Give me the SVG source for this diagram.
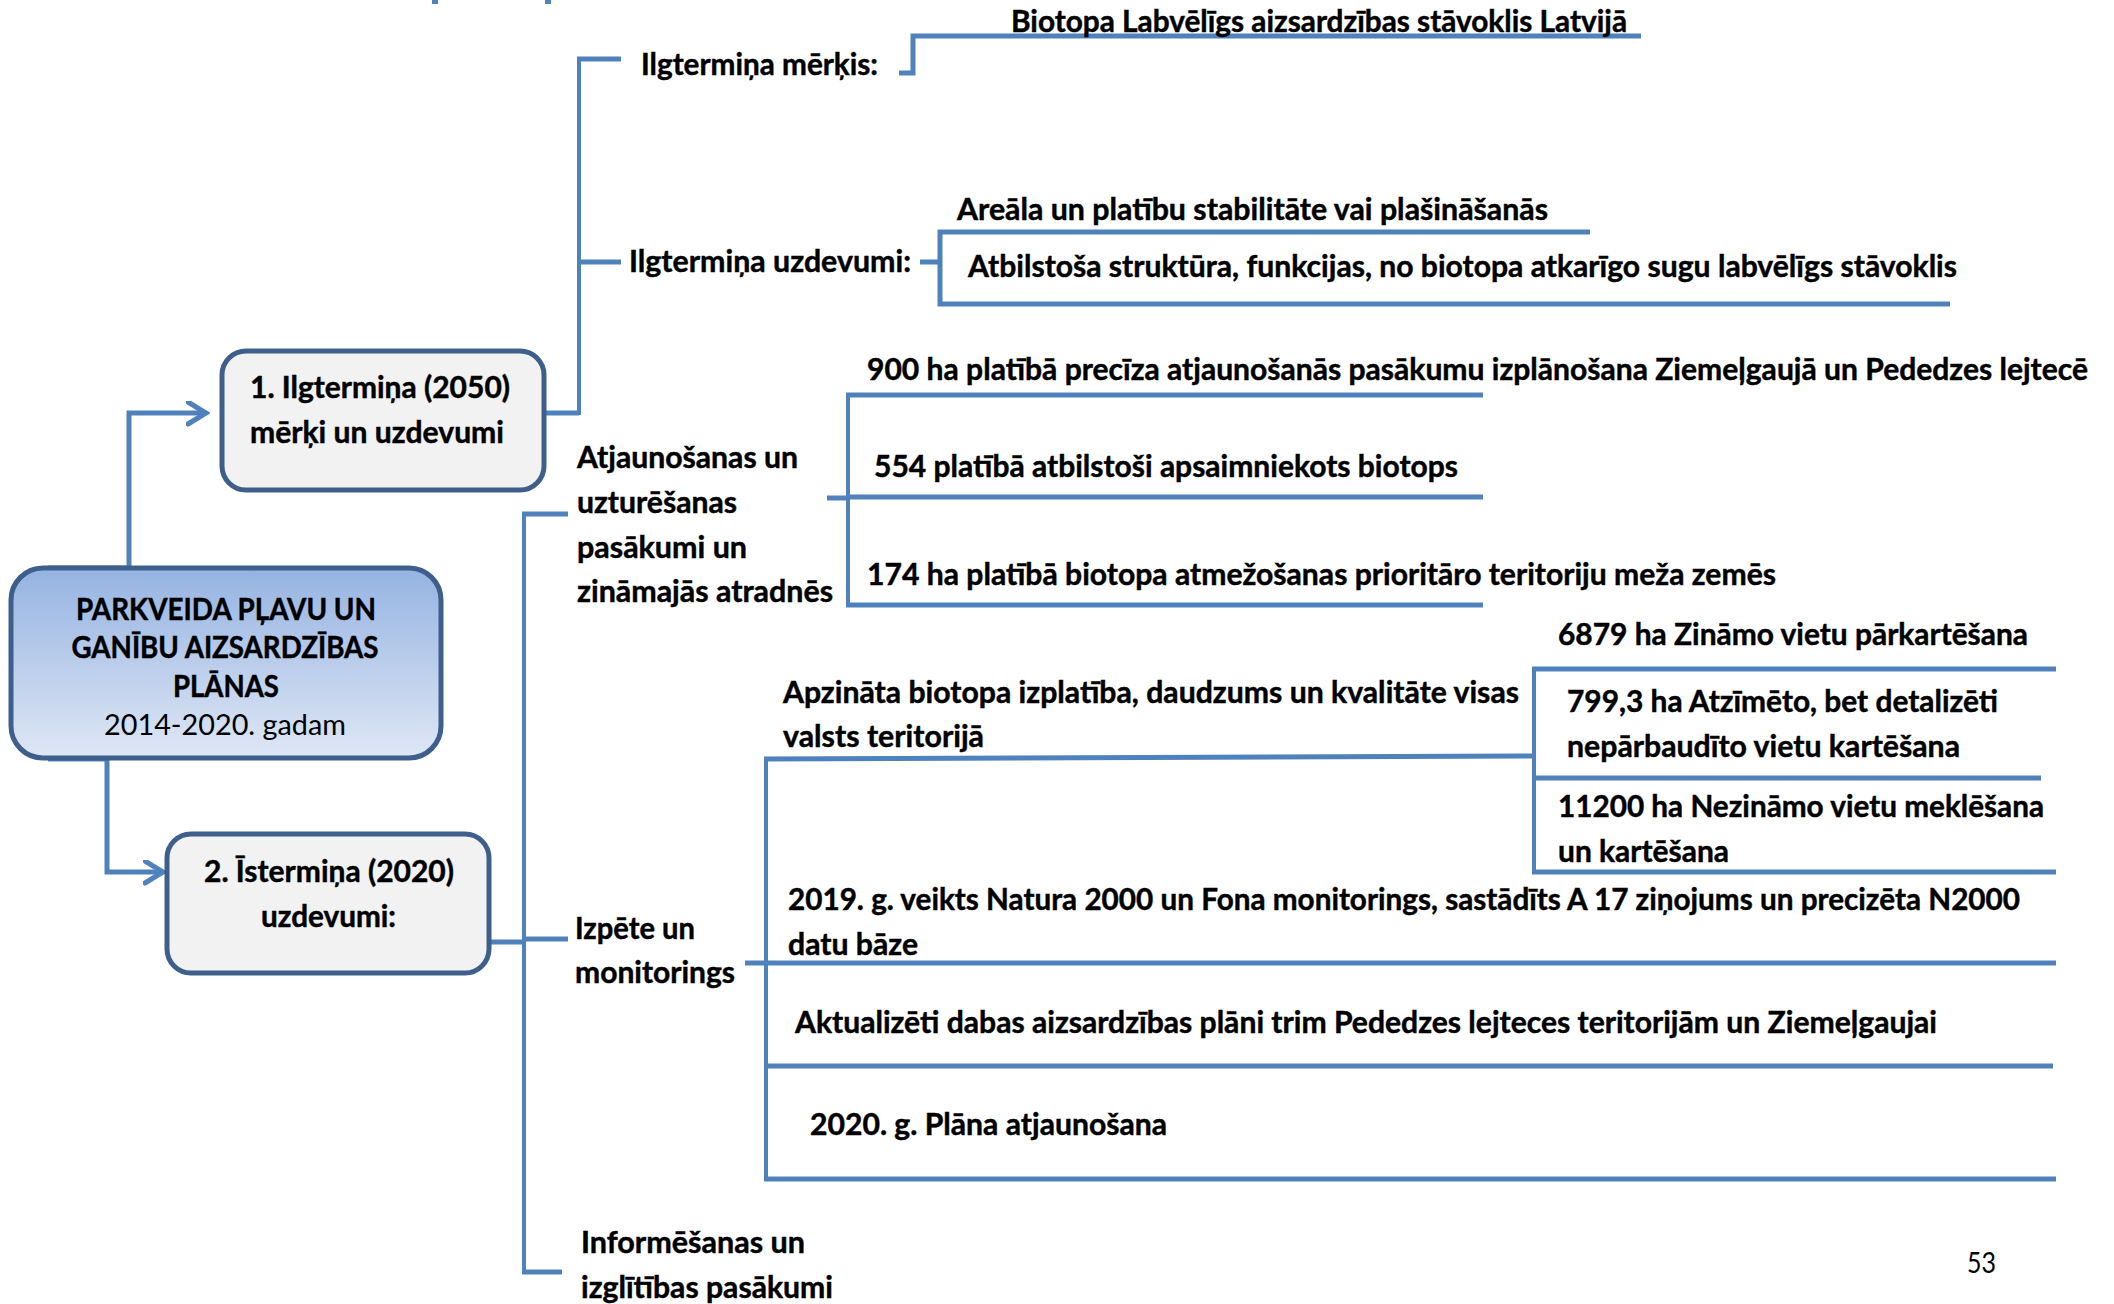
<svg xmlns="http://www.w3.org/2000/svg" width="2114" height="1304" viewBox="0 0 2114 1304">
<defs>
<linearGradient id="gMain" x1="0" y1="0" x2="0" y2="1">
<stop offset="0" stop-color="#95b3e1"/>
<stop offset="1" stop-color="#dfe7f5"/>
</linearGradient>
<marker id="arr" markerWidth="24" markerHeight="30" refX="20" refY="12" orient="auto" markerUnits="userSpaceOnUse">
<path d="M2,1 L20,12 L2,23" fill="none" stroke="#4f81bd" stroke-width="5" stroke-linecap="round" stroke-linejoin="miter"/>
</marker>
<style>
.t{font-family:Lato,"Liberation Sans",sans-serif;font-weight:bold;font-size:29.5px;fill:#000;stroke:#000;stroke-width:0.45px}
.r{font-family:Lato,"Liberation Sans",sans-serif;font-weight:normal;font-size:29.5px;fill:#000}
.c{text-anchor:middle}
.box{fill:#f2f2f2;stroke:#3e5f8c;stroke-width:5}
.main{fill:url(#gMain);stroke:#3e5f8c;stroke-width:5}
.ln{fill:none;stroke:#4f81bd;stroke-width:5}
.lv{fill:none;stroke:#4f81bd;stroke-width:4}
</style>
</defs>
<rect width="2114" height="1304" fill="#ffffff"/>
<rect x="432" y="0" width="6" height="4" fill="#4f81bd"/>
<rect x="545" y="0" width="6" height="4" fill="#4f81bd"/>

<g id="connectors">
<path class="ln" d="M48,568 H129 V413 H206" marker-end="url(#arr)"/>
<path class="ln" d="M48,759 H107 V872 H163" marker-end="url(#arr)"/>
<path class="ln" d="M545,413 H579"/>
<path class="lv" d="M579,57 V415"/>
<path class="ln" d="M577,59 H621"/>
<path class="ln" d="M577,262 H621"/>
<path class="ln" d="M899,73 H913 V36 H1641"/>
<path class="ln" d="M920,262 H940"/>
<path class="ln" d="M938,232 H1590"/>
<path class="ln" d="M940,230 V304 H1950"/>
<path class="ln" d="M490,942 H524"/>
<path class="lv" d="M524,512 V1274"/>
<path class="ln" d="M522,514 H568"/>
<path class="ln" d="M524,939 H568"/>
<path class="ln" d="M522,1272 H562"/>
<path class="ln" d="M827,498 H848"/>
<path class="lv" d="M848,393 V607"/>
<path class="ln" d="M846,395 H1483"/>
<path class="ln" d="M846,497 H1483"/>
<path class="ln" d="M846,605 H1483"/>
<path class="ln" d="M745,963 H2056"/>
<path class="lv" d="M766,757 V1181"/>
<path class="ln" d="M764,759 L1534,756"/>
<path class="ln" d="M764,1066 H2053"/>
<path class="ln" d="M764,1179 H2056"/>
<path class="lv" d="M1534,667 V872"/>
<path class="ln" d="M1532,669 H2056"/>
<path class="ln" d="M1534,778 H2041"/>
<path class="ln" d="M1532,872 H2056"/>
</g>

<g id="main">
<rect class="main" x="11" y="568" width="430" height="190" rx="32"/>
<text class="t c" x="226" y="620" textLength="300" lengthAdjust="spacingAndGlyphs">PARKVEIDA PĻAVU UN</text>
<text class="t c" x="225" y="658" textLength="307" lengthAdjust="spacingAndGlyphs">GANĪBU AIZSARDZĪBAS</text>
<text class="t c" x="226" y="697" textLength="106" lengthAdjust="spacingAndGlyphs">PLĀNAS</text>
<text class="r c" x="225" y="735" textLength="242" lengthAdjust="spacingAndGlyphs">2014-2020. gadam</text>
</g>

<g id="box1">
<rect class="box" x="222" y="351" width="322" height="139" rx="24"/>
<text class="t" x="250" y="398" textLength="260" lengthAdjust="spacingAndGlyphs">1. Ilgtermiņa (2050)</text>
<text class="t" x="250" y="443" textLength="254" lengthAdjust="spacingAndGlyphs">mērķi un uzdevumi</text>
</g>

<g id="box2">
<rect class="box" x="167" y="834" width="322" height="139" rx="24"/>
<text class="t" x="204" y="882" textLength="250" lengthAdjust="spacingAndGlyphs">2. Īstermiņa (2020)</text>
<text class="t" x="261" y="927" textLength="135" lengthAdjust="spacingAndGlyphs">uzdevumi:</text>
</g>

<g id="ilgt-merkis">
<text class="t" x="641" y="75" textLength="237" lengthAdjust="spacingAndGlyphs">Ilgtermiņa mērķis:</text>
</g>
<g id="biotopa">
<text class="t" x="1011" y="32" textLength="616" lengthAdjust="spacingAndGlyphs">Biotopa Labvēlīgs aizsardzības stāvoklis Latvijā</text>
</g>
<g id="ilgt-uzdevumi">
<text class="t" x="629" y="272" textLength="282" lengthAdjust="spacingAndGlyphs">Ilgtermiņa uzdevumi:</text>
</g>
<g id="areala">
<text class="t" x="957" y="220" textLength="591" lengthAdjust="spacingAndGlyphs">Areāla un platību stabilitāte vai plašināšanās</text>
</g>
<g id="atbilstosa">
<text class="t" x="968" y="277" textLength="989" lengthAdjust="spacingAndGlyphs">Atbilstoša struktūra, funkcijas, no biotopa atkarīgo sugu labvēlīgs stāvoklis</text>
</g>

<g id="atjaunosanas">
<text class="t" x="577" y="468" textLength="221" lengthAdjust="spacingAndGlyphs">Atjaunošanas un</text>
<text class="t" x="577" y="513" textLength="160" lengthAdjust="spacingAndGlyphs">uzturēšanas</text>
<text class="t" x="577" y="558" textLength="170" lengthAdjust="spacingAndGlyphs">pasākumi un</text>
<text class="t" x="577" y="602" textLength="256" lengthAdjust="spacingAndGlyphs">zināmajās atradnēs</text>
</g>
<g id="a900">
<text class="t" x="867" y="380" textLength="1221" lengthAdjust="spacingAndGlyphs">900 ha platībā precīza atjaunošanās pasākumu izplānošana Ziemeļgaujā un Pededzes lejtecē</text>
</g>
<g id="a554">
<text class="t" x="874" y="477" textLength="584" lengthAdjust="spacingAndGlyphs">554 platībā atbilstoši apsaimniekots biotops</text>
</g>
<g id="a174">
<text class="t" x="867" y="585" textLength="909" lengthAdjust="spacingAndGlyphs">174 ha platībā biotopa atmežošanas prioritāro teritoriju meža zemēs</text>
</g>

<g id="izpete">
<text class="t" x="575" y="939" textLength="120" lengthAdjust="spacingAndGlyphs">Izpēte un</text>
<text class="t" x="575" y="983" textLength="160" lengthAdjust="spacingAndGlyphs">monitorings</text>
</g>
<g id="apzinata">
<text class="t" x="783" y="703" textLength="736" lengthAdjust="spacingAndGlyphs">Apzināta biotopa izplatība, daudzums un kvalitāte visas</text>
<text class="t" x="783" y="747" textLength="201" lengthAdjust="spacingAndGlyphs">valsts teritorijā</text>
</g>
<g id="z6879">
<text class="t" x="1558" y="645" textLength="470" lengthAdjust="spacingAndGlyphs">6879 ha Zināmo vietu pārkartēšana</text>
</g>
<g id="z799">
<text class="t" x="1567" y="712" textLength="431" lengthAdjust="spacingAndGlyphs">799,3 ha Atzīmēto, bet detalizēti</text>
<text class="t" x="1567" y="757" textLength="393" lengthAdjust="spacingAndGlyphs">nepārbaudīto vietu kartēšana</text>
</g>
<g id="z11200">
<text class="t" x="1558" y="817" textLength="486" lengthAdjust="spacingAndGlyphs">11200 ha Nezināmo vietu meklēšana</text>
<text class="t" x="1558" y="862" textLength="171" lengthAdjust="spacingAndGlyphs">un kartēšana</text>
</g>
<g id="m2019">
<text class="t" x="788" y="910" textLength="1232" lengthAdjust="spacingAndGlyphs">2019. g. veikts Natura 2000 un Fona monitorings, sastādīts A 17 ziņojums un precizēta N2000</text>
<text class="t" x="788" y="955" textLength="130" lengthAdjust="spacingAndGlyphs">datu bāze</text>
</g>
<g id="aktualizeti">
<text class="t" x="795" y="1033" textLength="1142" lengthAdjust="spacingAndGlyphs">Aktualizēti dabas aizsardzības plāni trim Pededzes lejteces teritorijām un Ziemeļgaujai</text>
</g>
<g id="plana2020">
<text class="t" x="810" y="1135" textLength="357" lengthAdjust="spacingAndGlyphs">2020. g. Plāna atjaunošana</text>
</g>
<g id="informesanas">
<text class="t" x="581" y="1253" textLength="224" lengthAdjust="spacingAndGlyphs">Informēšanas un</text>
<text class="t" x="581" y="1298" textLength="252" lengthAdjust="spacingAndGlyphs">izglītības pasākumi</text>
</g>
<text class="r" x="1967" y="1273" textLength="29" lengthAdjust="spacingAndGlyphs">53</text>
</svg>
